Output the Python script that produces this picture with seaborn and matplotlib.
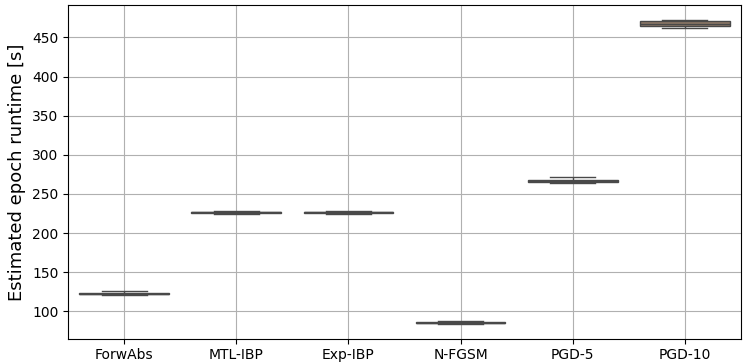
import matplotlib
matplotlib.use("Agg")
import matplotlib.pyplot as plt
import seaborn as sns
import pandas as pd
import numpy as np

methods = ["ForwAbs", "MTL-IBP", "Exp-IBP", "N-FGSM", "PGD-5", "PGD-10"]
forwabs = [120.5, 122.0, 122.5, 123.0, 125.5]
mtl_ibp = [224.0, 225.8, 226.4, 227.0, 228.5]
exp_ibp = [224.3, 226.0, 226.6, 227.3, 228.6]
n_fgsm = [84.0, 85.0, 85.4, 85.8, 87.0]
pgd5 = [264.0, 264.8, 266.0, 267.3, 271.1]
pgd10 = [462.0, 464.0, 467.0, 470.8, 472.0]

series = [forwabs, mtl_ibp, exp_ibp, n_fgsm, pgd5, pgd10]
rows = []
for m, vals in zip(methods, series):
    for v in vals:
        rows.append({"method": m, "runtime": v})
df = pd.DataFrame(rows)

fig, ax = plt.subplots(figsize=(7.46, 3.63), dpi=100)
sns.boxplot(data=df, x="method", y="runtime", hue="method", palette="deep",
            legend=False, ax=ax, order=methods, whis=np.inf)
ax.grid(True)
ax.set_axisbelow(True)
ax.set_xlabel("")
ax.set_ylabel("Estimated epoch runtime [s]", fontsize=13)
ax.set_ylim(65, 491)
ax.set_yticks([100, 150, 200, 250, 300, 350, 400, 450])
fig.subplots_adjust(left=0.0912, right=0.9933, top=0.9854, bottom=0.0669)
fig.savefig("out.png", dpi=100)
